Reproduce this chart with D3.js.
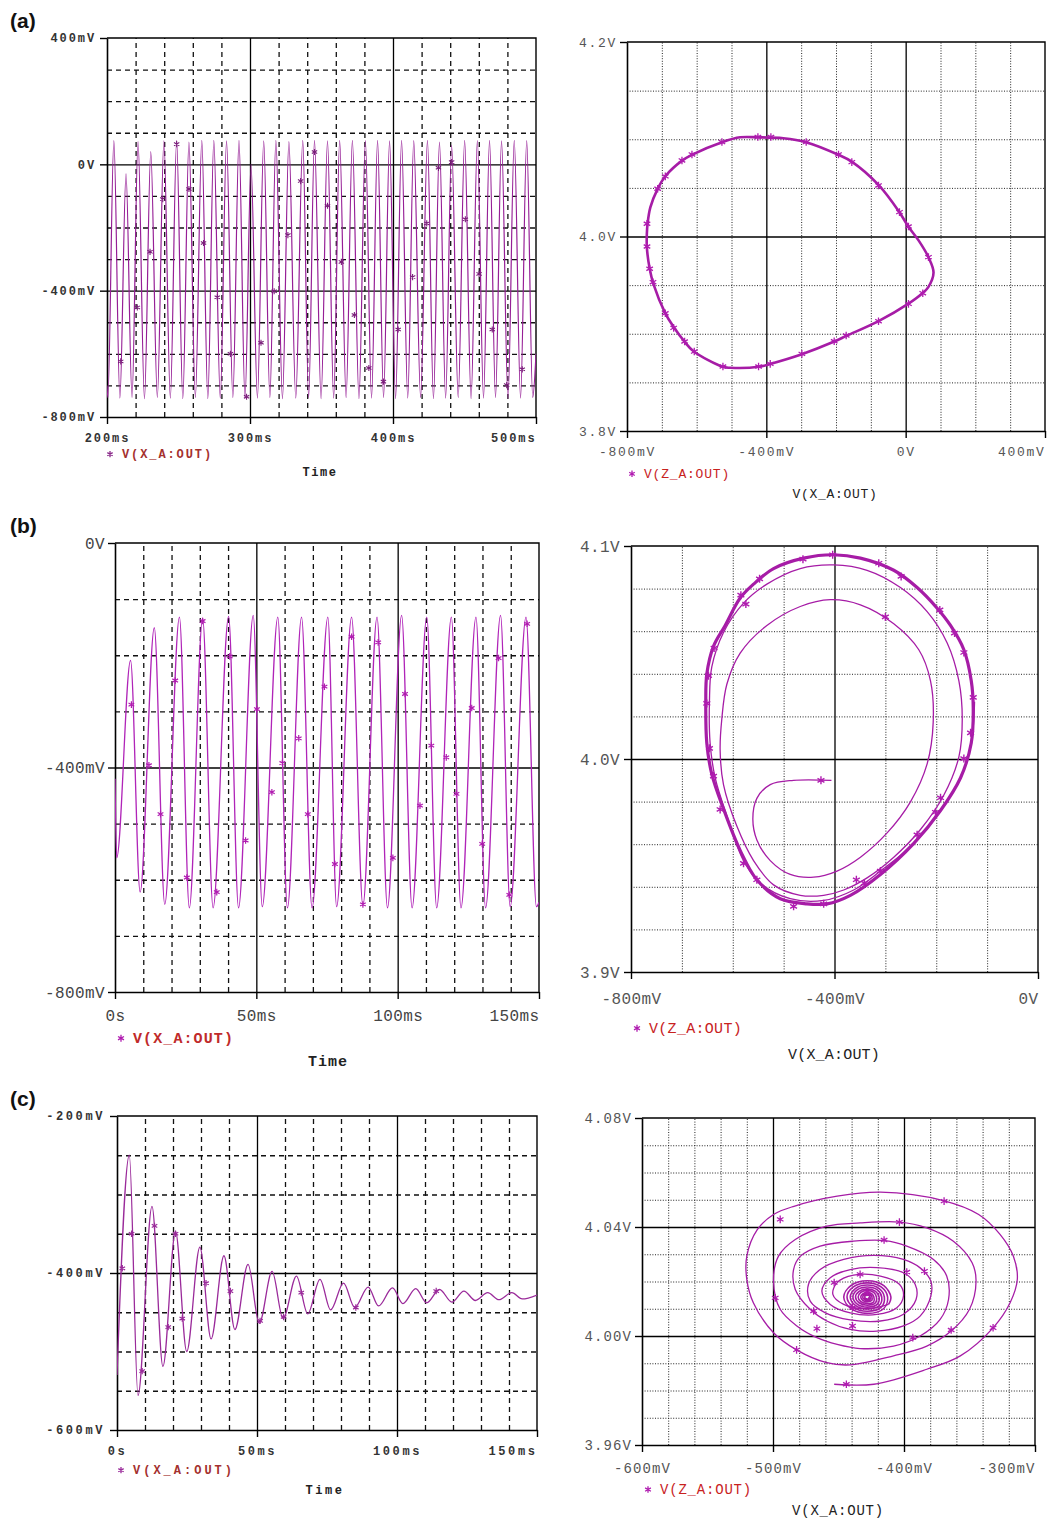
<!DOCTYPE html>
<html>
<head>
<meta charset="utf-8">
<script src="https://cdn.jsdelivr.net/npm/d3@7"></script>
<style>
  body { margin: 0; background: #fff; }
  svg { display: block; }
</style>
</head>
<body>
<svg id="fig" width="1048" height="1520"></svg>
<script>
// ------------------------------------------------------------------
// Simulated outputs of the oscillator: transient V(X_A:OUT) traces and
// phase portraits V(Z_A:OUT) versus V(X_A:OUT) for three parameter sets.
// Time in ms, voltages in mV (X) and V (Z).
// ------------------------------------------------------------------

// (a) sustained oscillation, 200..500 ms : turning points of the trace
const seriesA = [[200,-700],[200.6,-738],[204.8,75],[209.0,-740],[213.3,-30],[217.5,-738],[221.7,72],[226.2,-742],[230.6,40],[235.2,-738],[239.8,74],[244.3,-740],[248.7,76],[253.0,-742],[257.3,70],[261.8,-738],[266.3,76],[270.5,-742],[274.7,76],[279.2,-740],[283.6,74],[288.0,-738],[292.3,76],[296.5,-742],[300.7,0],[305.2,-740],[309.6,74],[313.9,-738],[318.1,76],[322.7,-742],[327.2,72],[332.0,-740],[336.9,76],[341.0,-738],[345.1,76],[349.7,-742],[354.2,74],[358.5,-740],[362.7,76],[367.2,-738],[371.6,76],[376.2,-742],[380.7,75],[385.0,-740],[389.2,76],[393.4,-738],[397.6,74],[401.8,-742],[406.0,76],[410.3,-740],[414.5,75],[419.3,-738],[424.1,76],[428.3,-742],[432.5,70],[436.8,-740],[441.0,60],[445.6,-738],[450.1,76],[454.6,-742],[459.0,75],[463.3,-740],[467.5,76],[471.7,-738],[475.9,74],[480.4,-742],[484.8,76],[489.2,-740],[493.5,75],[497.7,-738],[500,-600]];
const markersA = [[209.6,-624],[221.2,-453],[230.1,-277],[239.0,-110],[248.7,64],[257.3,-78],[267.5,-249],[277.1,-421],[286.3,-600],[297.6,-736],[307.7,-565],[316.9,-402],[326.5,-224],[335.4,-53],[345.1,39],[354.2,-131],[363.9,-309],[373.0,-477],[383.1,-645],[393.3,-688],[403.6,-523],[413.7,-357],[423.6,-187],[431.8,-11],[441.0,7],[450.6,-174],[460.2,-347],[469.4,-523],[479.5,-699],[490.4,-649]];

// (a) limit cycle in the X-Z plane
const loopA = [[-424,4.102],[-351,4.101],[-286,4.097],[-193,4.084],[-155,4.077],[-78,4.053],[-18,4.025],[8,4.010],[37,3.996],[65,3.979],[80,3.963],[65,3.948],[49,3.942],[8,3.931],[-78,3.913],[-169,3.898],[-205,3.892],[-298,3.879],[-389,3.869],[-422,3.866],[-504,3.865],[-525,3.866],[-609,3.882],[-635,3.892],[-666,3.907],[-690,3.921],[-724,3.951],[-735,3.967],[-743,3.989],[-743,4.003],[-741,4.013],[-733,4.030],[-712,4.049],[-690,4.062],[-642,4.078],[-614,4.084],[-527,4.097],[-475,4.102]];
const loopMarkersA = [[-424.2,4.1023],[-386.9,4.1023],[-527.5,4.0971],[-613.5,4.0844],[-642.2,4.0782],[-690,4.0618],[-712,4.0491],[-742.6,4.0131],[-742.6,3.9897],[-735,3.9668],[-725.4,3.953],[-690,3.9211],[-666.1,3.906],[-634.6,3.892],[-606.9,3.8817],[-524.6,3.8663],[-422.3,3.8663],[-388.8,3.869],[-298,3.8793],[-205.2,3.8923],[-170.8,3.8982],[-78,3.9129],[8,3.9307],[49.1,3.9417],[65.4,3.9788],[8,4.0103],[-17.8,4.0251],[-78,4.0525],[-154.6,4.0765],[-192.8,4.0844],[-285.6,4.0971]];

// (b) start-up towards the limit cycle, 0..150 ms
const seriesB = [[0,-420],[0.6,-561],[5.5,-209],[8.9,-622],[13.9,-151],[17.6,-644],[22.8,-132],[26.3,-650],[31.0,-134],[34.7,-650],[40.2,-131],[43.7,-650],[48.9,-129],[52.1,-648],[57.6,-132],[61.0,-650],[66.0,-132],[69.7,-650],[75.3,-132],[78.4,-648],[83.7,-132],[87.7,-646],[92.7,-132],[96.4,-650],[101.4,-129],[105.1,-650],[110.3,-132],[113.8,-650],[119.0,-132],[122.4,-650],[127.7,-132],[131.1,-650],[136.4,-129],[139.8,-648],[145.4,-132],[149.1,-648],[150,-640]];
const markersB = [[5.8,-288],[12.0,-396],[16.1,-483],[21.3,-245],[25.4,-596],[31.0,-139],[36.0,-622],[40.6,-202],[46.2,-530],[50.2,-296],[55.5,-444],[59.2,-392],[65.0,-348],[68.2,-483],[74.1,-256],[77.8,-572],[83.7,-167],[87.7,-644],[93.1,-177],[98.3,-561],[102.6,-269],[107.9,-468],[111.9,-361],[117.2,-382],[120.8,-447],[126.2,-294],[129.9,-536],[135.7,-205],[139.5,-627],[145.8,-144]];

// (b) phase portrait: transient spiral, then the settled cycle
const transientB = [[-406,3.990],[-480.4,3.990],[-526.3,3.988],[-552.6,3.9815],[-560.5,3.9718],[-552.6,3.962],[-526.3,3.9523],[-487,3.9458],[-441,3.9445],[-395,3.9474],[-349,3.9539],[-296.6,3.9653],[-250.7,3.9799],[-217.9,3.9977],[-206,4.0172],[-211.3,4.0367],[-234.3,4.0513],[-283.5,4.0635],[-349.1,4.0724],[-408.2,4.0748],[-467.3,4.0716],[-532.9,4.0627],[-585.4,4.0497],[-611.6,4.0351],[-621.5,4.0188],[-624.8,4.0042],[-618.2,3.988],[-592,3.9685],[-559.1,3.9523],[-519.8,3.9409],[-467.3,3.936],[-421.3,3.936],[-381.9,3.9385],[-336,3.9442],[-283.5,3.9539],[-231,3.9669],[-185,3.9831],[-155.5,4.001],[-148.9,4.0188],[-155.5,4.0367],[-178.5,4.0545],[-217.9,4.0692],[-270.4,4.0805],[-336,4.0886],[-401.6,4.0911],[-467.3,4.0894],[-532.9,4.0821],[-578.8,4.0732],[-618.2,4.0594],[-641.2,4.0432],[-645.8,4.0269],[-644.5,4.0075],[-634.6,3.9912],[-611.6,3.9734],[-578.8,3.9523],[-546,3.9417],[-487,3.9344],[-421.3,3.9336],[-362.3,3.9385],[-309.7,3.9474],[-244.1,3.9604],[-191.6,3.9758],[-152.2,3.9912],[-131.2,4.0075],[-124.7,4.0269]];
const cycleB = [[-127.3,4.0237],[-131.2,4.0367],[-145.7,4.0513],[-172,4.0627],[-198.2,4.0708],[-237.6,4.0805],[-283.5,4.0886],[-349.1,4.0943],[-401.6,4.0959],[-460.7,4.0943],[-519.8,4.0894],[-559.1,4.0821],[-585.4,4.0756],[-614.9,4.0627],[-637.9,4.0529],[-651,4.0399],[-653,4.0269],[-651,4.0075],[-641.2,3.9929],[-618.2,3.9766],[-585.4,3.9571],[-552.6,3.9433],[-506.6,3.9344],[-454.1,3.932],[-414.8,3.932],[-368.8,3.936],[-309.7,3.9458],[-244.1,3.9604],[-191.6,3.9758],[-152.2,3.9912],[-131.2,4.0075]];
const loopMarkersB = [[-426.6,3.990],[-462,4.0938],[-403.6,4.0959],[-313,4.0919],[-269,4.0857],[-193,4.07],[-164,4.0591],[-145.7,4.05],[-127.3,4.0289],[-132.5,4.0123],[-145.7,4.0002],[-191.6,3.9818],[-201.5,3.975],[-237.6,3.9644],[-309.7,3.9474],[-341.3,3.9417],[-357,3.9433],[-421.3,3.932],[-480.4,3.9308],[-552.6,3.9433],[-578.8,3.951],[-624.8,3.9763],[-637.9,3.992],[-645.8,4.005],[-651,4.0261],[-647.7,4.0391],[-636.6,4.0521],[-584,4.0769],[-547.3,4.0846],[-574.2,4.0727],[-300,4.0667]];

// (c) damped oscillation settling to the equilibrium, 0..150 ms
const seriesC = [[0,-530],[4.4,-250],[7.5,-556],[12.5,-315],[16.4,-519],[20.9,-347],[24.9,-500],[29.6,-367],[33.6,-484],[38.2,-378],[42.1,-472],[46.8,-389],[50.8,-464],[55.4,-398],[59.3,-458],[64.1,-404],[68.1,-452],[72.5,-408],[76.3,-447],[80.9,-413],[84.9,-444],[89.7,-418],[93.4,-442],[98.4,-419],[102.1,-439],[106.7,-420],[110.6,-438],[115.2,-421],[119.6,-437],[123.9,-423],[128.0,-435],[132.4,-425],[136.4,-434],[141.0,-425],[144.7,-433],[150,-428]];
const markersC = [[1.9,-394],[5.2,-350],[9.0,-525],[13.4,-340],[18.3,-469],[20.9,-350],[23.3,-458],[31.8,-413],[40.5,-423],[51.1,-461],[59.5,-456],[65.8,-425],[85.3,-444],[114.0,-423]];

// (c) stable focus: inward spiral, outer turns
const spiralC = [[-453.3,3.9823],[-423,3.9823],[-382.6,3.9878],[-357,3.9927],[-332,4.003],[-319,4.0122],[-313.5,4.0208],[-316.5,4.0293],[-326.7,4.0373],[-343,4.0446],[-370,4.0497],[-418,4.0528],[-451,4.0513],[-484,4.0476],[-499.6,4.0446],[-512,4.039],[-520,4.0293],[-520,4.0208],[-515,4.0122],[-499.6,4.0012],[-482,3.9949],[-459,3.9902],[-441,3.9894],[-408,3.9927],[-382.6,3.9963],[-364,4.0018],[-350,4.0098],[-345,4.0201],[-348,4.0269],[-362.3,4.0348],[-382.6,4.0397],[-403.5,4.0418],[-433.5,4.0415],[-459,4.0403],[-483,4.0354],[-495.8,4.0293],[-499.6,4.0201],[-494.5,4.0098],[-481.8,4.0037],[-466.5,3.9994],[-451,3.9969],[-433.5,3.9954],[-408,3.9963],[-387.7,4.0],[-372.4,4.0061],[-366,4.0134],[-367.4,4.022],[-377.5,4.0281],[-397.9,4.033],[-414.4,4.035],[-438.5,4.0348],[-464,4.033],[-479,4.0293],[-484.3,4.0244],[-483,4.0171],[-471.6,4.0098],[-458.9,4.0055],[-441,4.0024],[-420.7,4.0018],[-400.4,4.0037],[-387.7,4.0073],[-379.5,4.0147],[-379.5,4.0201],[-387.7,4.025],[-400.4,4.0281],[-423,4.0296],[-446,4.0281],[-464,4.0244],[-472.9,4.019],[-471.6,4.0128],[-460,4.0085],[-441,4.0059],[-418,4.0055],[-400.4,4.008],[-390.8,4.0134],[-391.5,4.019],[-400.4,4.0232],[-420.7,4.0251],[-441,4.0244],[-456.3,4.0214],[-462.7,4.0165],[-456.3,4.0116],[-441,4.0085],[-420.7,4.0079],[-405.5,4.0104],[-400.4,4.0147],[-403.5,4.019],[-418,4.022],[-438.5,4.0223],[-451,4.0196],[-454.3,4.0153],[-446,4.0116],[-428.4,4.01],[-411.8,4.0116]];
// (c) the tightly wound turns around the equilibrium point
const coreC = [[-411.8,4.0116],[-410,4.0143],[-415.4,4.0185],[-428,4.0203],[-440.6,4.0185],[-446,4.0143],[-440.6,4.0101],[-428,4.0083],[-415.4,4.0101],
  [-412.5,4.0143],[-417.2,4.0179],[-428,4.0195],[-438.9,4.0179],[-443.5,4.0143],[-438.9,4.0107],[-428,4.0091],[-417.2,4.0107],
  [-415,4.0143],[-418.9,4.0174],[-428,4.0187],[-437.1,4.0174],[-441,4.0143],[-437.1,4.0112],[-428,4.0099],[-418.9,4.0112],
  [-417,4.0143],[-420.3,4.0169],[-428,4.018],[-435.7,4.0169],[-439,4.0143],[-435.7,4.0117],[-428,4.0106],[-420.3,4.0117],
  [-419,4.0143],[-421.7,4.0164],[-428,4.0173],[-434.3,4.0164],[-437,4.0143],[-434.3,4.0122],[-428,4.0113],[-421.7,4.0122],
  [-421,4.0143],[-423.1,4.016],[-428,4.0167],[-432.9,4.016],[-435,4.0143],[-432.9,4.0126],[-428,4.0119],[-423.1,4.0126],
  [-423,4.0143],[-424.5,4.0155],[-428,4.016],[-431.5,4.0155],[-433,4.0143],[-431.5,4.0131],[-428,4.0126],[-424.5,4.0131],
  [-424.5,4.0143],[-425.6,4.0151],[-428,4.0155],[-430.5,4.0151],[-431.5,4.0143],[-430.5,4.0135],[-428,4.0131],[-425.6,4.0135],
  [-426,4.0143],[-426.6,4.0148],[-428,4.015],[-429.4,4.0148],[-430,4.0143],[-429.4,4.0138],[-428,4.0136],[-426.6,4.0138],[-427,4.0143]];
const loopMarkersC = [[-494.5,4.0428],[-369.4,4.0495],[-403.5,4.0418],[-415.2,4.0352],[-397.9,4.0235],[-384.4,4.0238],[-433.5,4.0226],[-453.3,4.0196],[-498.3,4.014],[-469,4.0092],[-439.3,4.0104],[-466.5,4.0027],[-439.3,4.0037],[-482,3.9949],[-393.3,3.9994],[-364,4.0022],[-332,4.003],[-444,3.9823],[-428,4.0162]];

// Axis ticks and labels
const ticksA1 = { x: [200,300,400,500], xl: ['200ms','300ms','400ms','500ms'], y: [400,0,-400,-800], yl: ['400mV','0V','-400mV','-800mV'],
  gx: [220,240,260,280,320,340,360,380,420,440,460,480], mx: [300,400], gy: [300,200,100,-100,-200,-300,-500,-600,-700], my: [0,-400] };
const ticksA2 = { x: [-800,-400,0,400], xl: ['-800mV','-400mV','0V','400mV'], y: [4.2,4.0,3.8], yl: ['4.2V','4.0V','3.8V'],
  gx: [-700,-600,-500,-300,-200,-100,100,200,300], mx: [-400,0], gy: [4.15,4.1,4.05,3.95,3.9,3.85], my: [4.0] };
const ticksB1 = { x: [0,50,100,150], xl: ['0s','50ms','100ms','150ms'], y: [0,-400,-800], yl: ['0V','-400mV','-800mV'],
  gx: [10,20,30,40,60,70,80,90,110,120,130,140], mx: [50,100], gy: [-100,-200,-300,-500,-600,-700], my: [-400] };
const ticksB2 = { x: [-800,-400,0], xl: ['-800mV','-400mV','0V'], y: [4.1,4.0,3.9], yl: ['4.1V','4.0V','3.9V'],
  gx: [-700,-600,-500,-300,-200,-100], mx: [-400], gy: [4.08,4.06,4.04,4.02,3.98,3.96,3.94,3.92], my: [4.0] };
const ticksC1 = { x: [0,50,100,150], xl: ['0s','50ms','100ms','150ms'], y: [-200,-400,-600], yl: ['-200mV','-400mV','-600mV'],
  gx: [10,20,30,40,60,70,80,90,110,120,130,140], mx: [50,100], gy: [-250,-300,-350,-450,-500,-550], my: [-400] };
const ticksC2 = { x: [-600,-500,-400,-300], xl: ['-600mV','-500mV','-400mV','-300mV'], y: [4.08,4.04,4.00,3.96], yl: ['4.08V','4.04V','4.00V','3.96V'],
  gx: [-580,-560,-540,-520,-480,-460,-440,-420,-380,-360,-340,-320], mx: [-500,-400], gy: [4.07,4.06,4.05,4.03,4.02,4.01,3.99,3.98,3.97], my: [4.04,4.00] };

const legendTime = 'V(X_A:OUT)';
const legendPhase = 'V(Z_A:OUT)';
const titleTime = 'Time';
const titlePhase = 'V(X_A:OUT)';
const panelTags = ['(a)', '(b)', '(c)'];

// ------------------------------------------------------------------
const svg = d3.select('#fig');
const MONO = "'Liberation Mono','DejaVu Sans Mono',monospace";
const TRACE = '#a61ca6';

function drawPanel(p, t) {
  const g = svg.append('g');
  const x = d3.scaleLinear().domain(p.xd).range([p.x0, p.x1]);
  const y = d3.scaleLinear().domain(p.yd).range([p.y1, p.y0]);
  const W = p.x1 - p.x0, H = p.y1 - p.y0;

  // grid lines (minor broken, major solid)
  const gv = g.append('g').attr('transform', `translate(0,${p.y1})`)
    .call(d3.axisBottom(x).tickValues(t.gx.concat(t.mx)).tickSize(-H).tickSizeOuter(0).tickFormat(''));
  const gh = g.append('g').attr('transform', `translate(${p.x0},0)`)
    .call(d3.axisLeft(y).tickValues(t.gy.concat(t.my)).tickSize(-W).tickSizeOuter(0).tickFormat(''));
  [gv, gh].forEach(s => s.select('.domain').remove());
  gv.selectAll('.tick line').each(function(d) {
    const major = t.mx.includes(d);
    d3.select(this).attr('stroke', major ? '#000' : p.gridColor)
      .attr('stroke-width', major ? 1.3 : p.gridW)
      .attr('stroke-dasharray', major ? null : p.dash);
  });
  gh.selectAll('.tick line').each(function(d) {
    const major = t.my.includes(d);
    d3.select(this).attr('stroke', major ? '#000' : p.gridColor)
      .attr('stroke-width', major ? 1.3 : p.gridW)
      .attr('stroke-dasharray', major ? null : p.dash);
  });

  // top and right border
  g.append('path')
    .attr('d', `M${p.x0},${p.y0}H${p.x1}V${p.y1}`)
    .attr('fill', 'none').attr('stroke', '#000').attr('stroke-width', 1.4);

  // labelled axes
  const ay = g.append('g').attr('transform', `translate(${p.x0},0)`)
    .call(d3.axisLeft(y).tickValues(t.y).tickFormat((d, i) => t.yl[i]).tickSize(7).tickSizeOuter(0).tickPadding(p.yPad));
  const ax = g.append('g').attr('transform', `translate(0,${p.y1})`)
    .call(d3.axisBottom(x).tickValues(t.x).tickFormat((d, i) => t.xl[i]).tickSize(7).tickSizeOuter(0).tickPadding(p.xPad));
  [ax, ay].forEach(s => {
    s.select('.domain').attr('stroke', '#000').attr('stroke-width', 1.6);
    s.selectAll('.tick line').attr('stroke', '#000').attr('stroke-width', 1.4);
    s.selectAll('.tick text')
      .attr('fill', p.tc).style('font-family', MONO).style('font-size', p.tf + 'px')
      .style('font-weight', p.bold ? 'bold' : 'normal').style('letter-spacing', p.tls + 'px');
  });
  ax.selectAll('.tick text').filter((d, i) => i === t.x.length - 1).attr('text-anchor', 'end');

  // legend entry and axis title
  const lg = g.append('g');
  lg.append('path')
    .attr('transform', `translate(${p.lx},${p.ly - p.lf * 0.32})`)
    .attr('d', d3.symbol(d3.symbolAsterisk, p.lf * 2.2)())
    .attr('fill', 'none').attr('stroke', p.mc).attr('stroke-width', 1.3);
  lg.append('text')
    .attr('x', p.lx + 12).attr('y', p.ly)
    .text(p.legend)
    .attr('fill', p.lc).style('font-family', MONO).style('font-size', p.lf + 'px')
    .style('font-weight', p.bold || p.legendBold ? 'bold' : 'normal').style('letter-spacing', p.lls + 'px');
  g.append('text')
    .attr('x', p.tx).attr('y', p.ty).attr('text-anchor', 'middle')
    .text(p.title)
    .attr('fill', '#222').style('font-family', MONO).style('font-size', p.lf + 'px')
    .style('font-weight', p.titleBold ? 'bold' : 'normal').style('letter-spacing', p.als + 'px');

  // plotting area clip
  const cid = 'clip' + p.id;
  svg.append('clipPath').attr('id', cid).append('rect')
    .attr('x', p.x0).attr('y', p.y0).attr('width', W).attr('height', H);
  const plot = g.append('g').attr('clip-path', `url(#${cid})`);
  return { g, plot, x, y };
}

function drawMarkers(P, data, size, color, sw) {
  P.plot.append('g').selectAll('path').data(data).join('path')
    .attr('transform', d => `translate(${P.x(d[0])},${P.y(d[1])})`)
    .attr('d', d3.symbol(d3.symbolAsterisk, size)())
    .attr('fill', 'none').attr('stroke', color).attr('stroke-width', sw);
}

const leftStyle = { gridColor: '#111', gridW: 1.3, dash: '5,4', legend: legendTime, title: titleTime, titleBold: true };
const rightStyle = { gridColor: '#222', gridW: 1, dash: '1,1.6', legend: legendPhase, title: titlePhase, titleBold: false };

// ---------------- (a) ----------------
const A1 = drawPanel(Object.assign({}, leftStyle, {
  id: 'a1', x0: 107, x1: 536, y0: 38, y1: 417, xd: [200, 500], yd: [-800, 400],
  xPad: 9, yPad: 4, tc: '#333', tf: 12, bold: true, tls: 1.9,
  lx: 110, ly: 458, lf: 12, lc: '#a4302e', mc: '#8a2a8a', lls: 1.9, tx: 320, ty: 476, als: 1.5
}), ticksA1);
A1.plot.append('path').datum(seriesA)
  .attr('d', d3.line().x(d => A1.x(d[0])).y(d => A1.y(d[1])).curve(d3.curveMonotoneX))
  .attr('fill', 'none').attr('stroke', '#961f96').attr('stroke-width', 1.2);
drawMarkers(A1, markersA, 26, '#7a1f7a', 1.1);

const A2 = drawPanel(Object.assign({}, rightStyle, {
  id: 'a2', x0: 627, x1: 1045, y0: 42, y1: 431, xd: [-800, 400], yd: [3.8, 4.2],
  xPad: 9, yPad: 3, tc: '#555', tf: 13, bold: false, tls: 1.7,
  lx: 632, ly: 478, lf: 13, lc: '#c8221e', mc: '#b01cb0', lls: 0.8, tx: 835, ty: 498, als: 0.7
}), ticksA2);
A2.plot.append('path').datum(loopA)
  .attr('d', d3.line().x(d => A2.x(d[0])).y(d => A2.y(d[1])).curve(d3.curveCatmullRomClosed))
  .attr('fill', 'none').attr('stroke', TRACE).attr('stroke-width', 2.6);
drawMarkers(A2, loopMarkersA, 40, '#b01cb0', 1.3);

// ---------------- (b) ----------------
const B1 = drawPanel(Object.assign({}, leftStyle, {
  id: 'b1', x0: 115, x1: 539, y0: 543, y1: 992, xd: [0, 150], yd: [-800, 0],
  xPad: 11, yPad: 3, tc: '#444', tf: 16, bold: false, tls: 0.4,
  lx: 121, ly: 1043, lf: 15, lc: '#c02a2a', mc: '#b01cb0', lls: 1.1, legendBold: true, tx: 328, ty: 1066, als: 1
}), ticksB1);
B1.plot.append('path').datum(seriesB)
  .attr('d', d3.line().x(d => B1.x(d[0])).y(d => B1.y(d[1])).curve(d3.curveMonotoneX))
  .attr('fill', 'none').attr('stroke', '#b024b8').attr('stroke-width', 1.3);
drawMarkers(B1, markersB, 30, '#b01cb0', 1.2);

const B2 = drawPanel(Object.assign({}, rightStyle, {
  id: 'b2', x0: 631, x1: 1038, y0: 546, y1: 972, xd: [-800, 0], yd: [3.9, 4.1],
  xPad: 14, yPad: 4, tc: '#555', tf: 16, bold: false, tls: 0.4,
  lx: 637, ly: 1033, lf: 15, lc: '#c8221e', mc: '#b01cb0', lls: 0.3, tx: 834, ty: 1059, als: 0.2
}), ticksB2);
const phaseLine = P => d3.line().x(d => P.x(d[0])).y(d => P.y(d[1]));
B2.plot.append('path').datum(transientB)
  .attr('d', phaseLine(B2).curve(d3.curveCatmullRom))
  .attr('fill', 'none').attr('stroke', TRACE).attr('stroke-width', 1.3);
B2.plot.append('path').datum(cycleB)
  .attr('d', phaseLine(B2).curve(d3.curveCatmullRomClosed))
  .attr('fill', 'none').attr('stroke', TRACE).attr('stroke-width', 3.2);
drawMarkers(B2, loopMarkersB, 44, '#b01cb0', 1.4);

// ---------------- (c) ----------------
const C1 = drawPanel(Object.assign({}, leftStyle, {
  id: 'c1', x0: 117, x1: 537, y0: 1116, y1: 1430, xd: [0, 150], yd: [-600, -200],
  xPad: 9, yPad: 5, tc: '#333', tf: 12, bold: true, tls: 2.6,
  lx: 121, ly: 1474, lf: 12, lc: '#a4302e', mc: '#9a2a9a', lls: 3, tx: 325, ty: 1494, als: 2.5
}), ticksC1);
C1.plot.append('path').datum(seriesC)
  .attr('d', d3.line().x(d => C1.x(d[0])).y(d => C1.y(d[1])).curve(d3.curveMonotoneX))
  .attr('fill', 'none').attr('stroke', '#9a2a9a').attr('stroke-width', 1.3);
drawMarkers(C1, markersC, 28, '#9a2a9a', 1.2);

const C2 = drawPanel(Object.assign({}, rightStyle, {
  id: 'c2', x0: 642, x1: 1035, y0: 1118, y1: 1445, xd: [-600, -300], yd: [3.96, 4.08],
  xPad: 11, yPad: 3, tc: '#555', tf: 14, bold: false, tls: 1.1,
  lx: 648, ly: 1494, lf: 14, lc: '#c8221e', mc: '#b01cb0', lls: 0.8, tx: 838, ty: 1515, als: 0.8
}), ticksC2);
C2.plot.append('path').datum(spiralC)
  .attr('d', phaseLine(C2).curve(d3.curveCatmullRom))
  .attr('fill', 'none').attr('stroke', TRACE).attr('stroke-width', 1.3);
C2.plot.append('path').datum(coreC)
  .attr('d', phaseLine(C2).curve(d3.curveCatmullRom))
  .attr('fill', 'none').attr('stroke', TRACE).attr('stroke-width', 1.6);
drawMarkers(C2, loopMarkersC, 40, '#b01cb0', 1.3);

// panel tags
svg.selectAll('text.tag').data(panelTags).join('text')
  .attr('class', 'tag')
  .attr('x', 10).attr('y', (d, i) => [28, 533, 1106][i])
  .text(d => d)
  .attr('fill', '#111')
  .style('font-family', "'Liberation Sans', Arial, sans-serif")
  .style('font-size', '21px').style('font-weight', 'bold');
</script>
</body>
</html>
